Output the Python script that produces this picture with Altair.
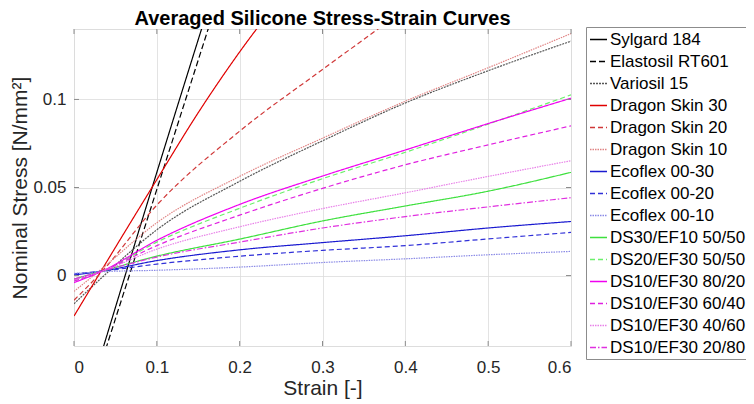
import altair as alt
import pandas as pd

FONT = "Liberation Sans"

materials = [
    "Sylgard 184", "Elastosil RT601", "Variosil 15",
    "Dragon Skin 30", "Dragon Skin 20", "Dragon Skin 10",
    "Ecoflex 00-30", "Ecoflex 00-20", "Ecoflex 00-10",
    "DS30/EF10 50/50", "DS20/EF30 50/50",
    "DS10/EF30 80/20", "DS10/EF30 60/40", "DS10/EF30 40/60", "DS10/EF30 20/80",
]
colors = [
    "#000000", "#000000", "#555555",
    "#e00000", "#d03838", "#e08484",
    "#1a1ad0", "#3030d8", "#8a8ae6",
    "#3ee03e", "#6cf06c",
    "#f000f0", "#e020e0", "#e880e8", "#e030e0",
]
dashes = [
    [1, 0], [6, 3], [2, 1],
    [1, 0], [5, 3], [1.5, 1],
    [1, 0], [5, 3], [1.5, 1],
    [1, 0], [5, 3],
    [1, 0], [5, 3], [1.5, 1], [6, 2, 1.5, 2],
]

# strain grids
strain_std = [0, 0.034, 0.1, 0.2, 0.3, 0.4, 0.5, 0.6]

sylgard_strain = [0.03, 0.095, 0.16]
sylgard_stress = [-0.049, 0.051, 0.149]
elastosil_strain = [0.035, 0.1, 0.17]
elastosil_stress = [-0.0466, 0.0489, 0.1518]
variosil_stress = [-0.016, -0.001, 0.026, 0.0535, 0.0765, 0.098, 0.1163, 0.1331]
ds30_strain = [0, 0.05, 0.1, 0.15, 0.2, 0.25]
ds30_stress = [-0.023, 0.016, 0.0545, 0.0925, 0.127, 0.158]
ds20_strain = [0, 0.034, 0.1, 0.2, 0.3, 0.37]
ds20_stress = [-0.014, 0.0024, 0.040, 0.082, 0.117, 0.141]
ds10_stress = [-0.009, 0.004, 0.030, 0.0563, 0.078, 0.099, 0.118, 0.1374]
ef30_stress = [0.0003, 0.0025, 0.0085, 0.0146, 0.0187, 0.0226, 0.027, 0.0307]
ef20_stress = [0.001, 0.0025, 0.0065, 0.011, 0.0143, 0.017, 0.0208, 0.0245]
ef10_stress = [0.0012, 0.0022, 0.003, 0.0048, 0.0074, 0.0095, 0.0118, 0.0137]
ds30ef10_stress = [-0.002, 0.0025, 0.011, 0.0207, 0.031, 0.0395, 0.0479, 0.0586]
ds20ef30_stress = [-0.003, 0.0025, 0.019, 0.0382, 0.055, 0.070, 0.086, 0.1026]
mix8020_stress = [-0.004, 0.0025, 0.020, 0.0404, 0.0565, 0.0713, 0.0863, 0.1007]
mix6040_stress = [-0.003, 0.0025, 0.017, 0.0343, 0.0495, 0.0629, 0.0742, 0.085]
mix4060_stress = [-0.0025, 0.0025, 0.015, 0.0277, 0.038, 0.047, 0.0563, 0.0652]
mix2080_stress = [-0.002, 0.0025, 0.0105, 0.019, 0.027, 0.0335, 0.039, 0.0442]

x_ticks = [0, 0.1, 0.2, 0.3, 0.4, 0.5, 0.6]
y_ticks = [0, 0.05, 0.1]

series = [
    ("Sylgard 184", sylgard_strain, sylgard_stress),
    ("Elastosil RT601", elastosil_strain, elastosil_stress),
    ("Variosil 15", strain_std, variosil_stress),
    ("Dragon Skin 30", ds30_strain, ds30_stress),
    ("Dragon Skin 20", ds20_strain, ds20_stress),
    ("Dragon Skin 10", strain_std, ds10_stress),
    ("Ecoflex 00-30", strain_std, ef30_stress),
    ("Ecoflex 00-20", strain_std, ef20_stress),
    ("Ecoflex 00-10", strain_std, ef10_stress),
    ("DS30/EF10 50/50", strain_std, ds30ef10_stress),
    ("DS20/EF30 50/50", strain_std, ds20ef30_stress),
    ("DS10/EF30 80/20", strain_std, mix8020_stress),
    ("DS10/EF30 60/40", strain_std, mix6040_stress),
    ("DS10/EF30 40/60", strain_std, mix4060_stress),
    ("DS10/EF30 20/80", strain_std, mix2080_stress),
]
rows = []
for name, xs, ys in series:
    for x, y in zip(xs, ys):
        rows.append({"material": name, "strain": x, "stress": y})
df = pd.DataFrame(rows)

W, H = 497, 317
GRID = "#dcdcdc"
FRAME = "#8c8c8c"

xscale = alt.Scale(domain=[0, 0.6], nice=False, zero=False)
yscale = alt.Scale(domain=[-0.04, 0.14], nice=False, zero=False)

lines = alt.Chart(df).mark_line(strokeWidth=1.2, clip=True, interpolate="monotone").encode(
    x=alt.X("strain:Q", scale=xscale,
            axis=alt.Axis(values=x_ticks, format="~g", title="Strain [-]",
                          grid=True, gridColor=GRID, gridWidth=0.8,
                          ticks=False, tickSize=0, domain=False,
                          labelFont=FONT, labelFontSize=17, labelColor="#262626",
                          labelBaseline="alphabetic", labelPadding=26,
                          titleFont=FONT, titleFontSize=21, titleFontWeight="normal",
                          titleColor="#262626", titleBaseline="alphabetic",
                          titleY=48, titleX=W / 2)),
    y=alt.Y("stress:Q", scale=yscale,
            axis=alt.Axis(values=y_ticks, format="~g", title="Nominal Stress [N/mm²]",
                          grid=True, gridColor=GRID, gridWidth=0.8,
                          ticks=False, tickSize=0, domain=False,
                          labelFont=FONT, labelFontSize=17, labelColor="#262626",
                          labelPadding=8,
                          titleFont=FONT, titleFontSize=21, titleFontWeight="normal",
                          titleColor="#262626", titleAngle=270, titleAlign="center",
                          titleBaseline="alphabetic", titleX=-48, titleY=H / 2)),
    color=alt.Color("material:N", sort=materials,
                    scale=alt.Scale(domain=materials, range=colors),
                    legend=alt.Legend(orient="none", legendX=512, legendY=-2, title=None,
                                      symbolType="stroke", symbolSize=289,
                                      symbolStrokeWidth=1.5, labelFont=FONT,
                                      labelFontSize=17, labelColor="#000000",
                                      rowPadding=4, padding=3, labelOffset=2,
                                      strokeColor=FRAME, fillColor="white")),
    strokeDash=alt.StrokeDash("material:N", sort=materials,
                              scale=alt.Scale(domain=materials, range=dashes)),
    detail="material:N",
    order="strain:Q",
)

xt = pd.DataFrame({"t": x_ticks})
yt = pd.DataFrame({"t": y_ticks})
tick_bottom = alt.Chart(xt).mark_rule(color=FRAME, strokeWidth=1).encode(
    x=alt.X("t:Q", scale=xscale), y=alt.value(H), y2=alt.value(H - 5))
tick_top = alt.Chart(xt).mark_rule(color=FRAME, strokeWidth=1).encode(
    x=alt.X("t:Q", scale=xscale), y=alt.value(0), y2=alt.value(5))
tick_left = alt.Chart(yt).mark_rule(color=FRAME, strokeWidth=1).encode(
    y=alt.Y("t:Q", scale=yscale), x=alt.value(0), x2=alt.value(5))
tick_right = alt.Chart(yt).mark_rule(color=FRAME, strokeWidth=1).encode(
    y=alt.Y("t:Q", scale=yscale), x=alt.value(W), x2=alt.value(W - 5))

chart = alt.layer(lines, tick_bottom, tick_top, tick_left, tick_right).properties(
    width=W, height=H,
    autosize=alt.AutoSizeParams(type="none"),
    padding={"left": 66, "top": 21, "right": 175, "bottom": 57},
    title=alt.TitleParams("Averaged Silicone Stress-Strain Curves", font=FONT,
                          fontSize=20, fontWeight="bold", color="#000000",
                          anchor="middle", frame="group", offset=-2),
).configure_view(stroke=FRAME, strokeWidth=1).configure(background="white")

chart.save("out.html", embed_options={"renderer": "svg", "actions": False})
